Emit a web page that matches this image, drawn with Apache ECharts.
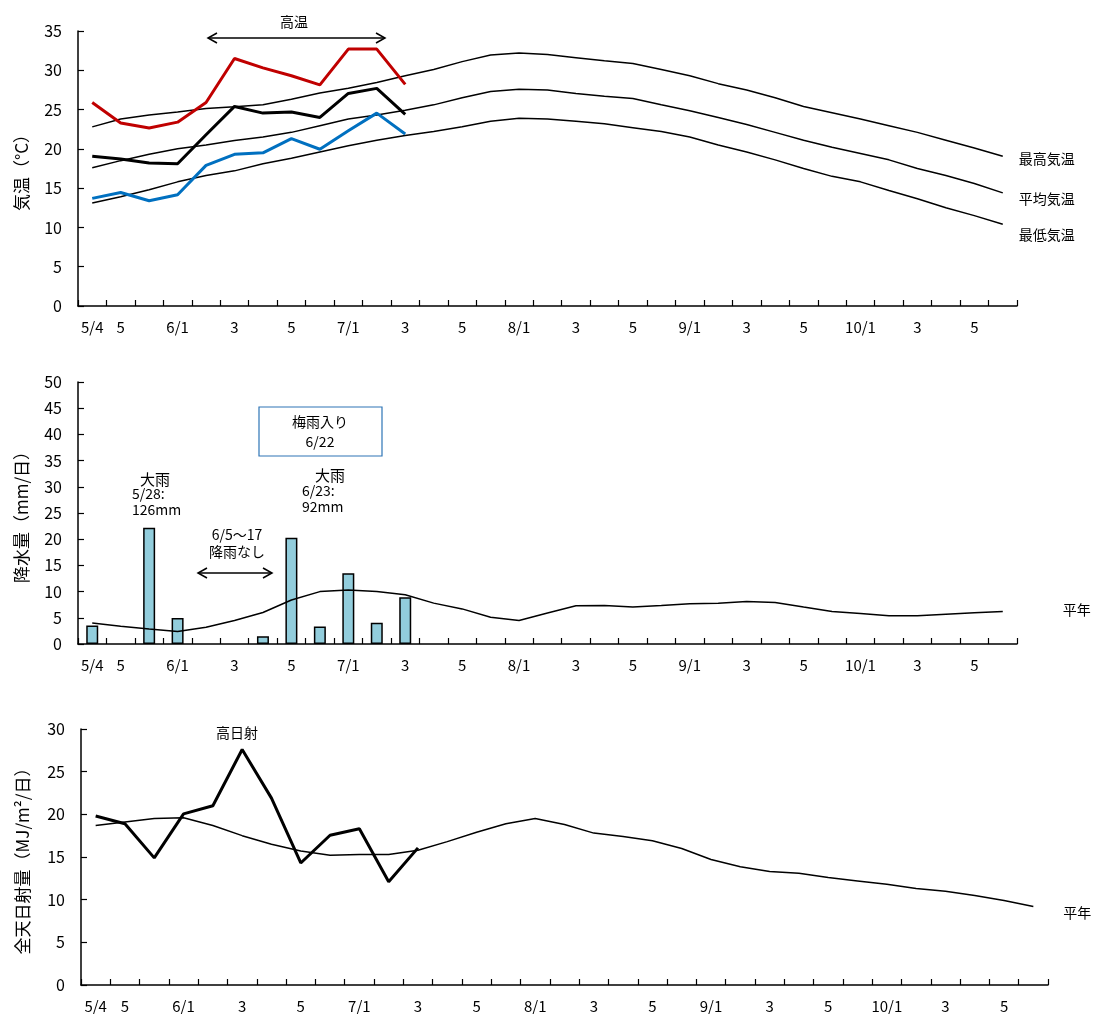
<!DOCTYPE html>
<html><head><meta charset="utf-8">
<script src="https://cdn.jsdelivr.net/npm/echarts@6/dist/echarts.min.js"></script>
<style>html,body{margin:0;padding:0;background:#fff}#c{width:1094px;height:1014px}</style>
</head><body><div id="c"></div>
<script>
var categories = ['5/4','5','','6/1','','3','','5','','7/1','','3','','5','','8/1','','3','','5','','9/1','','3','','5','','10/1','','3','','5',''];
// Temperature (°C)
var tMaxObs  = [25.9,23.3,22.65,23.4,25.9,31.5,30.3,29.3,28.15,32.7,32.7,28.2];
var tMeanObs = [19.06,18.7,18.2,18.1,21.8,25.4,24.55,24.7,24.0,27.05,27.7,24.4];
var tMinObs  = [13.7,14.45,13.4,14.16,17.9,19.3,19.5,21.3,19.95,22.3,24.55,21.9];
var tMaxNorm = [22.8,23.8,24.3,24.7,25.15,25.36,25.6,26.3,27.1,27.7,28.45,29.3,30.1,31.1,31.95,32.2,32.0,31.6,31.2,30.85,30.1,29.3,28.3,27.5,26.5,25.4,24.6,23.8,22.95,22.1,21.1,20.1,19.06];
var tMeanNorm= [17.6,18.5,19.3,20.0,20.5,21.05,21.5,22.1,22.95,23.8,24.3,24.9,25.6,26.5,27.3,27.6,27.5,27.05,26.7,26.4,25.6,24.85,24.0,23.1,22.1,21.1,20.2,19.4,18.6,17.5,16.6,15.6,14.4];
var tMinNorm = [13.1,13.9,14.8,15.8,16.6,17.2,18.1,18.8,19.6,20.4,21.1,21.7,22.2,22.8,23.5,23.9,23.8,23.5,23.2,22.7,22.2,21.5,20.5,19.6,18.6,17.5,16.5,15.8,14.7,13.65,12.5,11.5,10.4];
// Precipitation (mm/day)
var rainObs  = [3.55,null,22.2,4.95,null,null,1.46,20.3,3.36,13.5,4.06,8.9];
var rainNorm = [4.0,3.4,2.85,2.4,3.2,4.5,6.0,8.4,10.0,10.3,10.0,9.4,7.8,6.7,5.1,4.5,5.9,7.3,7.36,7.04,7.36,7.7,7.8,8.1,7.9,7.04,6.2,5.8,5.4,5.4,5.7,5.96,6.2];
// Solar radiation (MJ/m2/day)
var solarObs  = [19.8,18.9,14.9,20.05,21.0,27.6,21.9,14.3,17.55,18.3,12.1,16.07];
var solarNorm = [18.7,19.1,19.5,19.6,18.7,17.5,16.5,15.7,15.2,15.3,15.3,15.8,16.8,17.9,18.9,19.5,18.8,17.8,17.4,16.9,16.0,14.7,13.85,13.3,13.1,12.6,12.2,11.8,11.3,11.0,10.5,9.9,9.2];

var FONT = '"Noto Sans CJK JP","Noto Sans",sans-serif';
var chart = echarts.init(document.getElementById('c'));

function xAxis(gi){
  return {type:'category', gridIndex:gi, data:categories, boundaryGap:true,
    axisLine:{lineStyle:{color:'#000',width:1.5}},
    axisTick:{show:true, inside:true, length:6, interval:0, lineStyle:{color:'#000',width:1.2}},
    axisLabel:{interval:0, color:'#000', fontSize:15, fontFamily:FONT, margin:14}};
}
function yAxis(gi,max,name,gap){
  return {type:'value', gridIndex:gi, min:0, max:max, interval:5, name:name,
    nameLocation:'middle', nameGap:gap, nameRotate:90,
    nameTextStyle:{color:'#000', fontSize:17, fontFamily:FONT},
    splitLine:{show:false},
    axisLine:{show:true, lineStyle:{color:'#000',width:1.5}},
    axisTick:{show:true, inside:true, length:6, lineStyle:{color:'#000',width:1.2}},
    axisLabel:{color:'#000', fontSize:16, fontFamily:FONT, margin:16}};
}
function line(name, data, gi, color, width, label, off){
  var s = {type:'line', name:name, xAxisIndex:gi, yAxisIndex:gi, data:data,
    symbol:'none', smooth:false, lineStyle:{color:color,width:width}, z: width>2?5:3};
  if(label){
    s.endLabel = {show:true, formatter:label, color:'#000', fontSize:14, fontFamily:FONT, distance:off[0], offset:[0,off[1]]};
  }
  return s;
}
function arrowGroup(x1,x2,y){
  var h=5,w=9;
  return {type:'group', children:[
    {type:'line', shape:{x1:x1,y1:y,x2:x2,y2:y}, style:{stroke:'#000',lineWidth:1.5}},
    {type:'polyline', shape:{points:[[x1+w,y-h],[x1,y],[x1+w,y+h]]}, style:{stroke:'#000',lineWidth:1.5,fill:null}},
    {type:'polyline', shape:{points:[[x2-w,y-h],[x2,y],[x2-w,y+h]]}, style:{stroke:'#000',lineWidth:1.5,fill:null}}
  ]};
}
function txt(x,y,t,align,size){
  return {type:'text', x:x, y:y, style:{text:t, fill:'#000', font:(size||14)+'px '+FONT, textAlign:align||'center', textVerticalAlign:'middle'}};
}

chart.setOption({
  animation:false,
  backgroundColor:'#fff',
  grid:[
    {left:78, right:77, top:31, height:275},
    {left:78, right:77, top:382, height:262},
    {left:81, right:46, top:729, height:256}
  ],
  xAxis:[xAxis(0),xAxis(1),xAxis(2)],
  yAxis:[yAxis(0,35,'気温（°C）',48), yAxis(1,50,'降水量（mm/日）',48), yAxis(2,30,'全天日射量（MJ/m²/日）',50)],
  series:[
    line('最高気温平年',tMaxNorm,0,'#000',1.5,'最高気温',[16,2]),
    line('平均気温平年',tMeanNorm,0,'#000',1.5,'平均気温',[16,6]),
    line('最低気温平年',tMinNorm,0,'#000',1.5,'最低気温',[16,10]),
    line('最高気温',tMaxObs,0,'#C00000',3),
    line('平均気温',tMeanObs,0,'#000',3),
    line('最低気温',tMinObs,0,'#0070C0',3),
    {type:'bar', name:'降水量', xAxisIndex:1, yAxisIndex:1, data:rainObs, barWidth:12,
      itemStyle:{color:'#92CDDC', borderColor:'#000', borderWidth:1.5}, z:2},
    line('降水量平年',rainNorm,1,'#000',1.5,'平年',[60,-2]),
    line('日射量平年',solarNorm,2,'#000',1.5,'平年',[30,6]),
    line('日射量',solarObs,2,'#000',3)
  ],
  graphic:[
    txt(294,22,'高温'),
    arrowGroup(208,385,38),
    {type:'rect', shape:{x:259,y:407,width:123,height:49}, style:{stroke:'#2E75B6',lineWidth:1.2,fill:'#fff'}},
    txt(320,422,'梅雨入り'),
    txt(320,442,'6/22'),
    txt(155,479,'大雨',null,15),
    txt(132,494,'5/28:','left'),
    txt(132,510,'126mm','left'),
    txt(330,475,'大雨',null,15),
    txt(302,491,'6/23:','left'),
    txt(302,507,'92mm','left'),
    txt(237,535,'6/5〜17'),
    txt(237,552,'降雨なし'),
    arrowGroup(198,272,573),
    txt(237,733,'高日射')
  ]
});
</script></body></html>
